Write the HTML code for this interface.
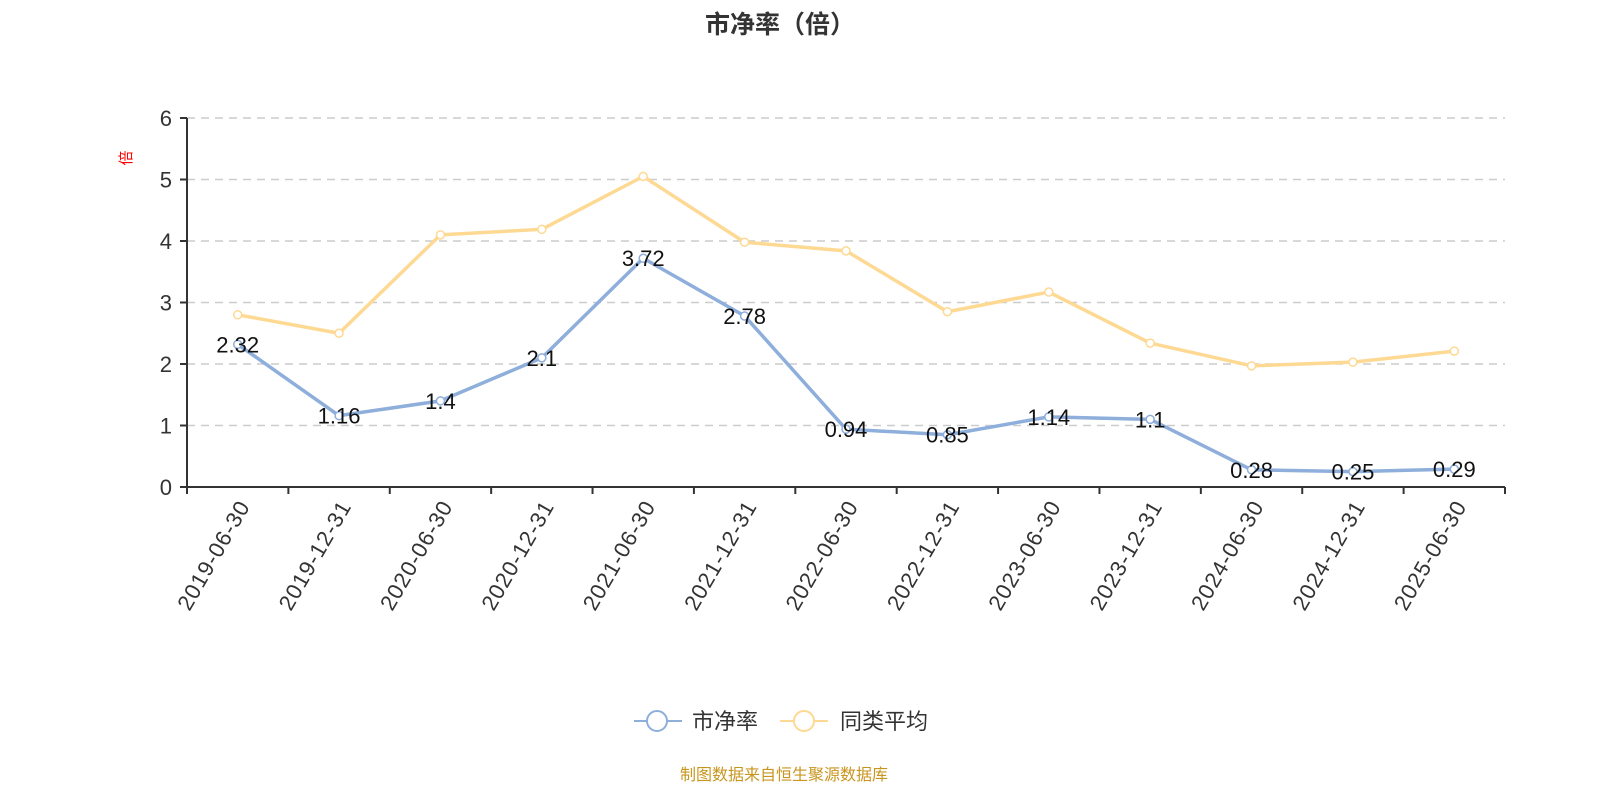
<!DOCTYPE html>
<html><head><meta charset="utf-8"><style>
body{margin:0;background:#fff;}
svg{display:block;font-family:"Liberation Sans","Noto Sans CJK SC",sans-serif;}
</style></head><body>
<svg id="c" width="1600" height="800">
<text x="780" y="33" text-anchor="middle" font-size="25" font-weight="bold" fill="#333">市净率（倍）</text>
<text transform="translate(127,158) rotate(-90)" text-anchor="middle" font-size="15" fill="#f00" dominant-baseline="middle">倍</text>
<g id="grid"></g><g id="axes"></g><g id="series"></g>
<g>
<g>
<line x1="634" y1="721" x2="682" y2="721" stroke="#8eaedb" stroke-width="2"/>
<circle cx="657" cy="721" r="10" fill="#fff" stroke="#8eaedb" stroke-width="2"/>
<text x="692" y="729" font-size="22" fill="#333">市净率</text></g>
<g>
<line x1="780" y1="721" x2="828" y2="721" stroke="#fdd993" stroke-width="2"/>
<circle cx="804" cy="721" r="10" fill="#fff" stroke="#fdd993" stroke-width="2"/>
<text x="840" y="729" font-size="22" fill="#333">同类平均</text></g>
</g>
<text x="784" y="780" text-anchor="middle" font-size="16" fill="#c8961e">制图数据来自恒生聚源数据库</text>
</svg>
<script>
const categories=["2019-06-30","2019-12-31","2020-06-30","2020-12-31","2021-06-30","2021-12-31","2022-06-30","2022-12-31","2023-06-30","2023-12-31","2024-06-30","2024-12-31","2025-06-30"];
const pbValues=[2.32,1.16,1.4,2.1,3.72,2.78,0.94,0.85,1.14,1.1,0.28,0.25,0.29];
const avgValues=[2.8,2.5,4.1,4.19,5.05,3.98,3.84,2.85,3.17,2.34,1.97,2.03,2.21];
const yTicks=[0,1,2,3,4,5,6];
const NS="http://www.w3.org/2000/svg";
const X0=187,X1=1505,Y0=487,Y1=118,YMAX=6;
const bw=(X1-X0)/categories.length;
const xs=i=>X0+bw*(i+0.5);
const ys=v=>Y0-(v/YMAX)*(Y0-Y1);
function mk(tag,attrs,parent){const e=document.createElementNS(NS,tag);for(const k in attrs)e.setAttribute(k,attrs[k]);parent.appendChild(e);return e;}
const grid=document.getElementById('grid'),axes=document.getElementById('axes'),ser=document.getElementById('series');
yTicks.forEach(t=>{
  const y=ys(t);
  if(t>0){const g=mk('line',{x1:X0,x2:X1,y1:y,y2:y,stroke:'#ccc','stroke-dasharray':'8,6','stroke-width':1.5},grid);
  
  }
  const tk=mk('line',{x1:X0-7,x2:X0,y1:y,y2:y,stroke:'#333','stroke-width':2},axes);
  
  
  const tl=mk('text',{x:X0-15,y:y+8,'text-anchor':'end','font-size':22,fill:'#333'},axes);
  tl.textContent=t;
  
  
});
const ya=mk('line',{x1:X0,x2:X0,y1:Y1,y2:Y0,stroke:'#333','stroke-width':2},axes);


const xa=mk('line',{x1:X0,x2:X1,y1:Y0,y2:Y0,stroke:'#333','stroke-width':2},axes);


for(let i=0;i<=categories.length;i++){
  const x=X0+bw*i;
  const t=mk('line',{x1:x,x2:x,y1:Y0,y2:Y0+7,stroke:'#333','stroke-width':2},axes);
  
  
}
categories.forEach((c,i)=>{
  const x=xs(i)+8,y=Y0+16;
  const t=mk('text',{x:x,y:y,'text-anchor':'end','font-size':22,'letter-spacing':'1',fill:'#333',transform:`rotate(-60 ${x} ${y})`,'dominant-baseline':'middle'},axes);
  t.textContent=c;
  
  
});
function series(vals,color,name,labels){
  const pts=vals.map((v,i)=>xs(i)+','+ys(v)).join(' ');
  const pl=mk('polyline',{points:pts,fill:'none',stroke:color,'stroke-width':3.5,'stroke-linejoin':'round'},ser);
  
  
  vals.forEach((v,i)=>{
    const c=mk('circle',{cx:xs(i),cy:ys(v),r:4,fill:'#fff',stroke:color,'stroke-width':1.5},ser);
    
    
    if(labels){
      const t=mk('text',{x:xs(i),y:ys(v)+8,'text-anchor':'middle','font-size':22,fill:'#111'},ser);
      t.textContent=v;
      
      
    }
  });
}
series(avgValues,'#fdd993','peer-average',false);
series(pbValues,'#8eaedb','pb',true);
</script>
</body></html>
